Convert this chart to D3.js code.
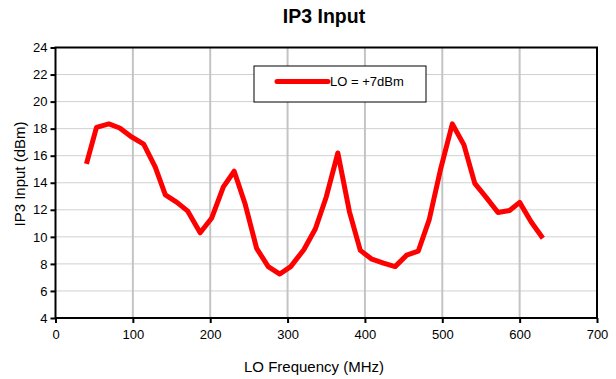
<!DOCTYPE html>
<html>
<head>
<meta charset="utf-8">
<script src="https://cdn.jsdelivr.net/npm/d3@7"></script>
<style>
  body { margin: 0; background: #fff; }
  text { font-family: "Liberation Sans", Arial, sans-serif; }
</style>
</head>
<body>
<div class="chart"></div>
<script>
//Data
var freqs = [40, 53, 69, 83, 98, 114, 129, 142, 157, 171, 187, 202, 217, 231, 245, 260, 275, 290, 304, 321,
    336, 350, 365, 380, 394, 409, 424, 439, 454, 469, 483, 498, 513, 528, 542, 557, 572, 587, 600, 615, 630];
var ip3 = [15.4, 18.1, 18.35, 18.05, 17.4, 16.85, 15.15, 13.1, 12.55, 11.9, 10.3, 11.4, 13.7, 14.85, 12.45, 9.15, 7.8, 7.25, 7.8, 9.05,
    10.6, 12.95, 16.2, 11.85, 9.0, 8.35, 8.05, 7.8, 8.65, 8.95, 11.25, 15.05, 18.35, 16.8, 13.95, 12.9, 11.8, 11.95, 12.55, 11.1, 9.9];
var xTicks = [0, 100, 200, 300, 400, 500, 600, 700];
var yTicks = [4, 6, 8, 10, 12, 14, 16, 18, 20, 22, 24];
var seriesName = "LO = +7dBm";

//Width and height
var w = 616;
var h = 379;
var plotL = 55.5, plotR = 597, plotT = 47.5, plotB = 318;

var svg = d3.select(".chart")
    .append("svg")
    .attr("width", w)
    .attr("height", h);

//Scales
var xScale = d3.scaleLinear().domain([0, 700]).range([plotL, plotR]);
var yScale = d3.scaleLinear().domain([4, 24]).range([plotB, plotT]);

//Horizontal grid
svg.append("g")
    .selectAll("line")
    .data(yTicks.slice(1, -1))
    .enter()
    .append("line")
    .attr("x1", plotL).attr("x2", plotR)
    .attr("y1", d => yScale(d)).attr("y2", d => yScale(d))
    .attr("stroke", "#d0d0d0")
    .attr("stroke-width", 1);

//Vertical grid
svg.append("g")
    .selectAll("line")
    .data(xTicks.slice(1, -1))
    .enter()
    .append("line")
    .attr("x1", d => xScale(d)).attr("x2", d => xScale(d))
    .attr("y1", plotT).attr("y2", plotB)
    .attr("stroke", "#c4c4c4")
    .attr("stroke-width", 2);

//Axes
var xAxis = d3.axisBottom(xScale).tickValues(xTicks).tickSize(5).tickPadding(7);
svg.append("g")
    .attr("transform", "translate(0," + plotB + ")")
    .call(xAxis)
    .call(g => g.select(".domain").remove())
    .call(g => g.selectAll("line").attr("stroke", "#000").attr("stroke-width", 2))
    .call(g => g.selectAll("text").attr("font-size", 13).attr("fill", "#000")
        .style("font-family", "Liberation Sans, Arial, sans-serif"));

var yAxis = d3.axisLeft(yScale).tickValues(yTicks).tickSize(5).tickPadding(3);
svg.append("g")
    .attr("transform", "translate(" + plotL + ",0)")
    .call(yAxis)
    .call(g => g.select(".domain").remove())
    .call(g => g.selectAll("line").attr("stroke", "#000").attr("stroke-width", 2))
    .call(g => g.selectAll("text").attr("font-size", 13).attr("fill", "#000")
        .style("font-family", "Liberation Sans, Arial, sans-serif"));

//Frame
svg.append("rect")
    .attr("x", plotL).attr("y", plotT)
    .attr("width", plotR - plotL).attr("height", plotB - plotT)
    .attr("fill", "none")
    .attr("stroke", "#000")
    .attr("stroke-width", 2);

//Line
var line = d3.line()
    .x((d, i) => xScale(freqs[i]))
    .y(d => yScale(d));

svg.append("path")
    .datum(ip3)
    .attr("d", line)
    .attr("fill", "none")
    .attr("stroke", "#ff0000")
    .attr("stroke-width", 5)
    .attr("stroke-linejoin", "round");

//Legend
var legend = svg.append("g").attr("transform", "translate(254,66)");
legend.append("rect")
    .attr("width", 172).attr("height", 36)
    .attr("fill", "#fff")
    .attr("stroke", "#000")
    .attr("stroke-width", 1);
legend.append("line")
    .attr("x1", 23).attr("x2", 74)
    .attr("y1", 15.5).attr("y2", 15.5)
    .attr("stroke", "#ff0000")
    .attr("stroke-width", 5)
    .attr("stroke-linecap", "round");
legend.append("text")
    .attr("x", 76).attr("y", 20)
    .attr("font-size", 13)
    .text(seriesName);

//Titles
svg.append("text")
    .attr("x", 324).attr("y", 23)
    .attr("text-anchor", "middle")
    .attr("font-size", 19.5)
    .attr("font-weight", "bold")
    .text("IP3 Input");

svg.append("text")
    .attr("x", 314).attr("y", 372)
    .attr("text-anchor", "middle")
    .attr("font-size", 15)
    .text("LO Frequency (MHz)");

svg.append("text")
    .attr("transform", "translate(25,174) rotate(-90)")
    .attr("text-anchor", "middle")
    .attr("font-size", 15)
    .text("IP3 Input (dBm)");
</script>
</body>
</html>
